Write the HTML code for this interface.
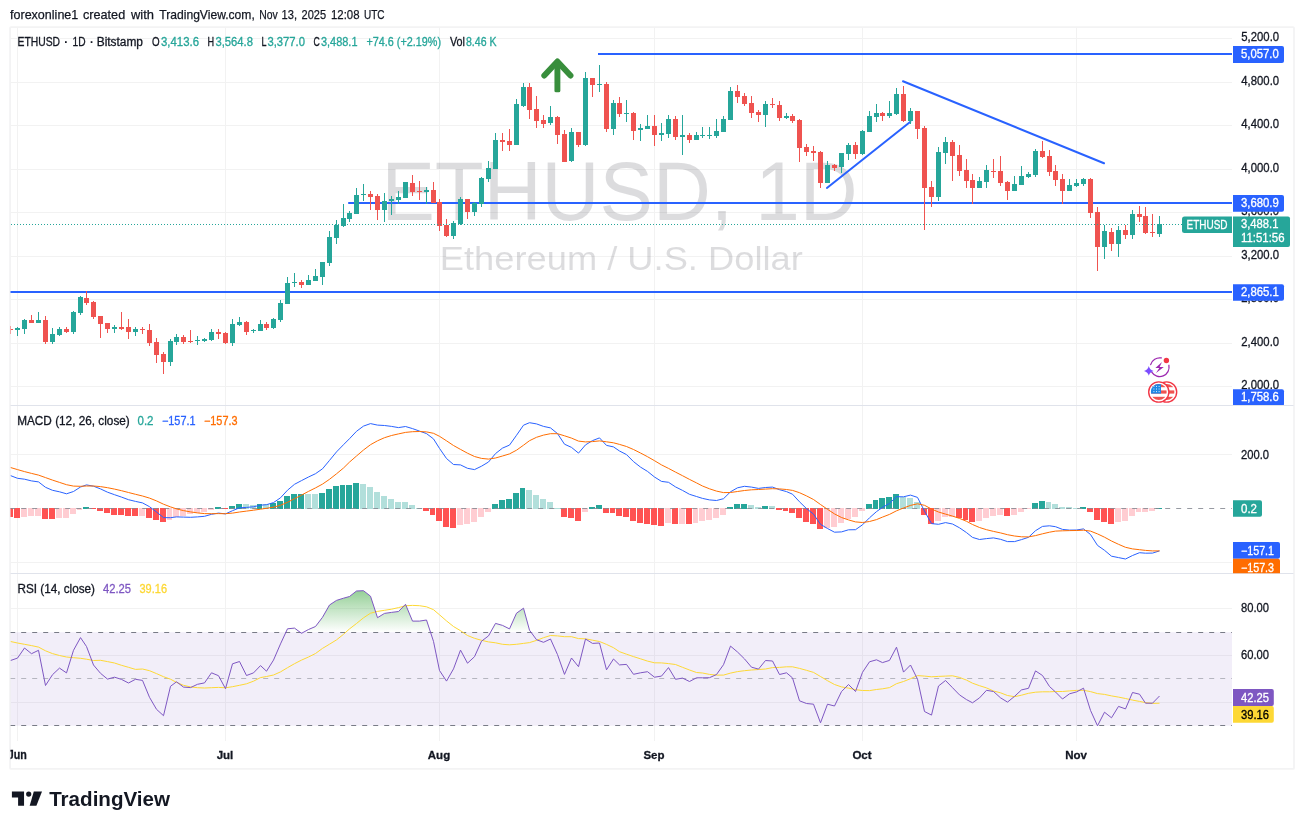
<!DOCTYPE html>
<html><head><meta charset="utf-8"><title>ETHUSD 1D</title>
<style>html,body{margin:0;padding:0;background:#fff;}body{width:1304px;height:829px;overflow:hidden;font-family:"Liberation Sans",sans-serif;}svg{display:block;will-change:transform;}</style></head>
<body>
<svg width="1304" height="829" viewBox="0 0 1304 829" font-family="'Liberation Sans', sans-serif">
<defs>
<clipPath id="cpP"><rect x="10.5" y="27.5" width="1221.5" height="377.5"/></clipPath>
<clipPath id="cpM"><rect x="10.5" y="406" width="1221.5" height="167"/></clipPath>
<clipPath id="cpR"><rect x="10.5" y="574" width="1221.5" height="167"/></clipPath>
<clipPath id="cpA"><rect x="1232" y="27.5" width="62" height="377.5"/></clipPath>
<clipPath id="cpAM"><rect x="1232" y="406" width="62" height="167.3"/></clipPath>
<clipPath id="cpT"><rect x="10.5" y="741" width="1284" height="28"/></clipPath>
<linearGradient id="gOB" gradientUnits="userSpaceOnUse" x1="0" y1="562.1" x2="0" y2="632.2"><stop offset="0" stop-color="#4caf50" stop-opacity="1"/><stop offset="1" stop-color="#4caf50" stop-opacity="0"/></linearGradient>
</defs>
<rect width="1304" height="829" fill="#fff"/>
<text x="10.0" y="18.7" font-size="13" fill="#131722" stroke="#131722" stroke-width="0.25" textLength="68.3" lengthAdjust="spacingAndGlyphs">forexonline1</text>
<text x="83.0" y="18.7" font-size="13" fill="#131722" stroke="#131722" stroke-width="0.25" textLength="42.2" lengthAdjust="spacingAndGlyphs">created</text>
<text x="131.0" y="18.7" font-size="13" fill="#131722" stroke="#131722" stroke-width="0.25" textLength="23.0" lengthAdjust="spacingAndGlyphs">with</text>
<text x="159.3" y="18.7" font-size="13" fill="#131722" stroke="#131722" stroke-width="0.25" textLength="95.5" lengthAdjust="spacingAndGlyphs">TradingView.com,</text>
<text x="259.3" y="18.7" font-size="13" fill="#131722" stroke="#131722" stroke-width="0.25" textLength="18.5" lengthAdjust="spacingAndGlyphs">Nov</text>
<text x="281.5" y="18.7" font-size="13" fill="#131722" stroke="#131722" stroke-width="0.25" textLength="15.5" lengthAdjust="spacingAndGlyphs">13,</text>
<text x="301.6" y="18.7" font-size="13" fill="#131722" stroke="#131722" stroke-width="0.25" textLength="24.5" lengthAdjust="spacingAndGlyphs">2025</text>
<text x="331.0" y="18.7" font-size="13" fill="#131722" stroke="#131722" stroke-width="0.25" textLength="28.5" lengthAdjust="spacingAndGlyphs">12:08</text>
<text x="364.0" y="18.7" font-size="13" fill="#131722" stroke="#131722" stroke-width="0.25" textLength="20.6" lengthAdjust="spacingAndGlyphs">UTC</text>
<rect x="10.1" y="27.05" width="1283.9" height="741.85" rx="1" fill="none" stroke="#f3f3f4" stroke-width="1.8"/>
<path d="M17.5 27.5V741M225.5 27.5V741M439.5 27.5V741M654.5 27.5V741M862.5 27.5V741M1076.5 27.5V741M10.5 38.5H1232.0M10.5 82.5H1232.0M10.5 125.5H1232.0M10.5 169.5H1232.0M10.5 212.5H1232.0M10.5 256.5H1232.0M10.5 299.5H1232.0M10.5 343.5H1232.0M10.5 386.5H1232.0M10.5 454.5H1232.0M10.5 562.5H1232.0M10.5 608.5H1232.0M10.5 655.5H1232.0M10.5 702.5H1232.0" stroke="#f2f2f2" stroke-width="1" fill="none"/>
<g fill="#131722" fill-opacity="0.15">
<text x="381.4" y="220.3" font-size="83.4" textLength="476.3" lengthAdjust="spacingAndGlyphs">ETHUSD, 1D</text>
<text x="439.8" y="270.2" font-size="33" textLength="363" lengthAdjust="spacingAndGlyphs">Ethereum / U.S. Dollar</text>
</g>
<g stroke="#2962ff" stroke-width="2" fill="none" stroke-linecap="butt">
<path d="M598 54H1232.0"/>
<path d="M348.2 203H1232.0"/>
<path d="M10.5 292H1232.0"/>
<path d="M826.9 188L910.4 121.8" stroke-linecap="round"/>
<path d="M903 81.2L1104 163.3" stroke-linecap="round"/>
</g>
<path d="M544.3 75.5L557.4 61.5L570.5 75.5" stroke="#388e3c" stroke-width="5.9" fill="none" stroke-linecap="round" stroke-linejoin="round"/>
<rect x="554.45" y="62" width="5.9" height="30.3" rx="1.6" fill="#388e3c"/>
<g clip-path="url(#cpP)" shape-rendering="crispEdges">
<path d="M17 327h1V336h-1zM24 319h1V334h-1zM38 312h1V323h-1zM52 328h1V344h-1zM59 327h1V336h-1zM73 311h1V334h-1zM80 296h1V315h-1zM114 325h1V333h-1zM135 327h1V336h-1zM170 339h1V366h-1zM176 334h1V345h-1zM197 336h1V345h-1zM204 338h1V342h-1zM211 329h1V341h-1zM232 319h1V346h-1zM239 317h1V326h-1zM253 329h1V333h-1zM260 320h1V331h-1zM273 318h1V329h-1zM280 300h1V322h-1zM287 277h1V304h-1zM294 273h1V287h-1zM308 275h1V285h-1zM315 269h1V281h-1zM322 262h1V285h-1zM329 231h1V266h-1zM336 220h1V244h-1zM343 204h1V227h-1zM349 211h1V222h-1zM356 188h1V214h-1zM363 184h1V201h-1zM384 193h1V222h-1zM391 196h1V215h-1zM398 191h1V204h-1zM405 182h1V198h-1zM426 187h1V204h-1zM453 221h1V239h-1zM460 197h1V225h-1zM474 202h1V216h-1zM481 177h1V207h-1zM488 161h1V182h-1zM495 133h1V169h-1zM516 99h1V145h-1zM523 83h1V107h-1zM550 106h1V125h-1zM571 128h1V162h-1zM585 72h1V146h-1zM599 65h1V92h-1zM613 100h1V135h-1zM626 100h1V122h-1zM640 124h1V141h-1zM647 115h1V129h-1zM661 123h1V141h-1zM668 115h1V138h-1zM682 115h1V155h-1zM696 132h1V140h-1zM702 127h1V138h-1zM709 127h1V139h-1zM716 119h1V138h-1zM723 116h1V132h-1zM730 87h1V120h-1zM765 101h1V127h-1zM786 113h1V119h-1zM827 161h1V183h-1zM841 153h1V173h-1zM848 143h1V160h-1zM862 130h1V155h-1zM869 111h1V132h-1zM876 104h1V122h-1zM889 101h1V118h-1zM896 88h1V115h-1zM910 108h1V124h-1zM938 147h1V201h-1zM945 137h1V164h-1zM979 177h1V188h-1zM986 165h1V188h-1zM1014 176h1V191h-1zM1021 166h1V185h-1zM1028 172h1V178h-1zM1035 149h1V177h-1zM1069 179h1V191h-1zM1076 179h1V187h-1zM1083 178h1V186h-1zM1104 225h1V259h-1zM1118 226h1V257h-1zM1132 210h1V239h-1zM1159 216h1V237h-1zM15 328h5V330h-5zM22 320h5V329h-5zM36 320h5V323h-5zM50 334h5V342h-5zM57 329h5V335h-5zM71 312h5V332h-5zM78 297h5V313h-5zM112 327h5V329h-5zM133 329h5V332h-5zM168 341h5V362h-5zM174 337h5V342h-5zM195 340h5V341h-5zM202 339h5V341h-5zM209 332h5V340h-5zM230 324h5V343h-5zM237 322h5V325h-5zM251 330h5V331h-5zM258 324h5V331h-5zM271 319h5V328h-5zM278 303h5V320h-5zM285 283h5V304h-5zM292 282h5V283h-5zM306 280h5V285h-5zM313 276h5V281h-5zM320 262h5V277h-5zM327 237h5V263h-5zM334 225h5V238h-5zM341 218h5V226h-5zM347 213h5V219h-5zM354 195h5V214h-5zM361 194h5V195h-5zM382 201h5V210h-5zM389 199h5V201h-5zM396 197h5V200h-5zM403 182h5V198h-5zM424 190h5V192h-5zM451 223h5V236h-5zM458 199h5V224h-5zM472 203h5V212h-5zM479 178h5V204h-5zM486 168h5V179h-5zM493 140h5V169h-5zM514 104h5V145h-5zM521 87h5V106h-5zM548 117h5V123h-5zM569 132h5V161h-5zM583 78h5V145h-5zM597 84h5V85h-5zM611 103h5V129h-5zM624 113h5V114h-5zM638 128h5V130h-5zM645 126h5V129h-5zM659 133h5V135h-5zM666 119h5V134h-5zM680 135h5V137h-5zM694 135h5V140h-5zM700 135h5V136h-5zM707 135h5V136h-5zM714 131h5V136h-5zM721 119h5V132h-5zM728 91h5V120h-5zM763 104h5V115h-5zM784 116h5V118h-5zM825 165h5V183h-5zM839 153h5V167h-5zM846 145h5V154h-5zM860 131h5V154h-5zM867 116h5V132h-5zM874 113h5V117h-5zM887 113h5V116h-5zM894 94h5V114h-5zM908 111h5V121h-5zM936 152h5V197h-5zM943 142h5V153h-5zM977 181h5V188h-5zM984 170h5V182h-5zM1012 184h5V191h-5zM1019 176h5V185h-5zM1026 174h5V177h-5zM1033 151h5V175h-5zM1067 185h5V191h-5zM1074 183h5V186h-5zM1081 179h5V184h-5zM1102 231h5V247h-5zM1116 230h5V244h-5zM1130 214h5V235h-5zM1157 224h5V234h-5z" fill="#26a69a"/>
<path d="M10 326h1V334h-1zM31 315h1V323h-1zM45 316h1V344h-1zM66 327h1V333h-1zM86 291h1V305h-1zM93 301h1V319h-1zM100 316h1V338h-1zM107 323h1V333h-1zM121 312h1V330h-1zM128 319h1V339h-1zM142 327h1V334h-1zM149 324h1V346h-1zM156 338h1V363h-1zM163 352h1V374h-1zM183 335h1V344h-1zM190 330h1V343h-1zM218 329h1V339h-1zM225 332h1V344h-1zM246 321h1V335h-1zM266 322h1V330h-1zM301 280h1V288h-1zM370 191h1V210h-1zM377 194h1V220h-1zM412 175h1V196h-1zM419 181h1V200h-1zM433 182h1V203h-1zM439 199h1V231h-1zM446 219h1V237h-1zM467 199h1V219h-1zM502 133h1V151h-1zM509 129h1V151h-1zM529 83h1V119h-1zM536 96h1V128h-1zM543 115h1V128h-1zM557 116h1V144h-1zM564 130h1V162h-1zM578 132h1V147h-1zM592 78h1V97h-1zM606 82h1V132h-1zM619 97h1V117h-1zM633 112h1V140h-1zM654 115h1V146h-1zM675 116h1V140h-1zM689 133h1V143h-1zM737 85h1V103h-1zM744 93h1V106h-1zM751 96h1V118h-1zM758 110h1V122h-1zM772 98h1V108h-1zM779 101h1V121h-1zM792 114h1V123h-1zM799 119h1V162h-1zM806 144h1V156h-1zM813 146h1V161h-1zM820 151h1V188h-1zM834 164h1V171h-1zM855 142h1V159h-1zM882 112h1V121h-1zM903 86h1V122h-1zM917 111h1V139h-1zM924 126h1V230h-1zM931 181h1V207h-1zM952 140h1V181h-1zM959 145h1V176h-1zM966 159h1V188h-1zM972 174h1V204h-1zM993 159h1V178h-1zM1000 156h1V186h-1zM1007 181h1V200h-1zM1042 141h1V158h-1zM1049 150h1V176h-1zM1055 165h1V186h-1zM1062 174h1V204h-1zM1090 178h1V218h-1zM1097 207h1V271h-1zM1111 228h1V251h-1zM1125 225h1V239h-1zM1139 206h1V222h-1zM1145 207h1V234h-1zM1152 214h1V237h-1zM8 329h5V330h-5zM29 320h5V323h-5zM43 320h5V342h-5zM64 329h5V332h-5zM84 298h5V303h-5zM91 302h5V317h-5zM98 316h5V324h-5zM105 323h5V329h-5zM119 327h5V329h-5zM126 327h5V332h-5zM140 329h5V330h-5zM147 330h5V343h-5zM154 342h5V355h-5zM161 354h5V362h-5zM181 337h5V342h-5zM188 341h5V342h-5zM216 332h5V334h-5zM223 333h5V343h-5zM244 322h5V332h-5zM264 324h5V328h-5zM299 282h5V285h-5zM368 194h5V197h-5zM375 196h5V210h-5zM410 183h5V192h-5zM417 191h5V192h-5zM431 190h5V203h-5zM437 202h5V226h-5zM444 225h5V236h-5zM465 199h5V212h-5zM500 140h5V142h-5zM507 141h5V145h-5zM527 87h5V110h-5zM534 109h5V121h-5zM541 120h5V124h-5zM555 117h5V135h-5zM562 134h5V162h-5zM576 132h5V145h-5zM590 78h5V85h-5zM604 84h5V129h-5zM617 103h5V114h-5zM631 113h5V131h-5zM652 126h5V135h-5zM673 119h5V137h-5zM687 135h5V140h-5zM735 91h5V97h-5zM742 96h5V104h-5zM749 103h5V113h-5zM756 112h5V115h-5zM770 104h5V105h-5zM777 105h5V118h-5zM790 116h5V121h-5zM797 120h5V148h-5zM804 147h5V152h-5zM811 151h5V153h-5zM818 152h5V183h-5zM832 165h5V168h-5zM853 145h5V154h-5zM880 113h5V116h-5zM901 94h5V121h-5zM915 111h5V129h-5zM922 128h5V188h-5zM929 187h5V197h-5zM950 142h5V156h-5zM957 155h5V171h-5zM964 170h5V181h-5zM970 180h5V188h-5zM991 171h5V172h-5zM998 171h5V183h-5zM1005 182h5V191h-5zM1040 151h5V157h-5zM1047 156h5V172h-5zM1053 171h5V180h-5zM1060 179h5V191h-5zM1088 179h5V213h-5zM1095 212h5V247h-5zM1109 232h5V244h-5zM1123 230h5V235h-5zM1137 214h5V217h-5zM1143 216h5V233h-5zM1150 232h5V233h-5z" fill="#ef5350"/>
</g>
<path d="M11 224.5H1182" stroke="#26a69a" stroke-width="1" stroke-dasharray="1 2" fill="none" shape-rendering="crispEdges"/>
<path d="M10.5 405.5H1293.5M10.5 573.5H1293.5" stroke="#e0e3eb" stroke-width="1" fill="none"/>
<g clip-path="url(#cpM)">
<g shape-rendering="crispEdges">
<path d="M83 507h6V509h-6zM215 507h6V509h-6zM229 506h6V509h-6zM236 504h6V509h-6zM257 504h5V509h-5zM270 503h6V509h-6zM277 501h6V509h-6zM284 496h6V509h-6zM291 494h6V509h-6zM298 494h6V509h-6zM319 493h6V509h-6zM326 489h6V509h-6zM333 486h6V509h-6zM340 485h5V509h-5zM346 485h6V509h-6zM353 483h6V509h-6zM492 504h6V509h-6zM499 500h6V509h-6zM506 499h6V509h-6zM513 493h6V509h-6zM520 488h5V509h-5zM589 507h6V509h-6zM596 505h6V509h-6zM727 507h6V509h-6zM734 504h6V509h-6zM741 504h6V509h-6zM762 506h6V509h-6zM866 504h6V509h-6zM873 500h5V509h-5zM879 498h6V509h-6zM886 497h6V509h-6zM893 494h6V509h-6zM1032 503h6V509h-6zM1039 501h6V509h-6zM1080 507h6V509h-6zM1156 508h6V509h-6z" fill="#26a69a"/>
<path d="M243 504h6V509h-6zM250 505h6V509h-6zM263 504h6V509h-6zM305 494h6V509h-6zM312 494h6V509h-6zM360 484h6V509h-6zM367 487h6V509h-6zM374 492h6V509h-6zM381 496h6V509h-6zM388 499h6V509h-6zM395 502h6V509h-6zM402 502h6V509h-6zM409 505h6V509h-6zM416 508h6V509h-6zM526 490h6V509h-6zM533 495h6V509h-6zM540 499h6V509h-6zM547 502h6V509h-6zM554 508h6V509h-6zM748 505h6V509h-6zM755 507h6V509h-6zM769 506h6V509h-6zM900 497h6V509h-6zM907 498h6V509h-6zM914 502h6V509h-6zM1046 502h5V509h-5zM1052 504h6V509h-6zM1059 507h6V509h-6zM1066 507h6V509h-6zM1073 508h6V509h-6z" fill="#b2dfdb"/>
<path d="M7 508h6V517h-6zM14 508h6V518h-6zM42 508h6V519h-6zM49 508h6V519h-6zM90 508h6V509h-6zM97 508h6V511h-6zM104 508h6V513h-6zM111 508h6V515h-6zM118 508h6V515h-6zM125 508h6V516h-6zM132 508h6V516h-6zM146 508h6V518h-6zM153 508h6V520h-6zM160 508h6V522h-6zM222 508h6V509h-6zM423 508h6V511h-6zM430 508h5V515h-5zM436 508h6V521h-6zM443 508h6V527h-6zM450 508h6V528h-6zM561 508h6V517h-6zM568 508h6V518h-6zM575 508h6V521h-6zM603 508h6V513h-6zM610 508h5V513h-5zM616 508h6V516h-6zM623 508h6V517h-6zM630 508h6V521h-6zM637 508h6V523h-6zM644 508h6V524h-6zM651 508h6V525h-6zM658 508h6V526h-6zM672 508h6V524h-6zM686 508h6V524h-6zM776 508h6V510h-6zM783 508h5V511h-5zM789 508h6V513h-6zM796 508h6V518h-6zM803 508h6V522h-6zM810 508h6V524h-6zM817 508h6V529h-6zM921 508h6V515h-6zM928 508h6V524h-6zM956 508h6V518h-6zM963 508h5V520h-5zM969 508h6V522h-6zM1004 508h6V516h-6zM1087 508h6V512h-6zM1094 508h6V520h-6zM1101 508h6V522h-6zM1108 508h6V524h-6z" fill="#ff5252"/>
<path d="M21 508h6V517h-6zM28 508h6V516h-6zM35 508h6V516h-6zM56 508h6V518h-6zM63 508h6V518h-6zM70 508h6V514h-6zM77 508h5V510h-5zM139 508h6V516h-6zM167 508h5V520h-5zM173 508h6V517h-6zM180 508h6V516h-6zM187 508h6V514h-6zM194 508h6V513h-6zM201 508h6V512h-6zM208 508h6V510h-6zM457 508h6V525h-6zM464 508h6V524h-6zM471 508h6V522h-6zM478 508h6V517h-6zM485 508h6V512h-6zM582 508h6V512h-6zM665 508h6V523h-6zM679 508h6V524h-6zM693 508h5V523h-5zM699 508h6V521h-6zM706 508h6V520h-6zM713 508h6V518h-6zM720 508h6V515h-6zM824 508h6V528h-6zM831 508h6V527h-6zM838 508h6V523h-6zM845 508h6V519h-6zM852 508h6V517h-6zM859 508h6V511h-6zM935 508h6V521h-6zM942 508h6V517h-6zM949 508h6V517h-6zM976 508h6V521h-6zM983 508h6V518h-6zM990 508h6V516h-6zM997 508h6V515h-6zM1011 508h6V515h-6zM1018 508h6V512h-6zM1025 508h6V509h-6zM1115 508h6V522h-6zM1122 508h6V521h-6zM1129 508h6V516h-6zM1136 508h5V512h-5zM1142 508h6V512h-6zM1149 508h6V511h-6z" fill="#ffcdd2"/>
</g>
<path d="M10.2 508.5H1232.0" stroke="#858892" stroke-opacity="0.85" stroke-width="1" stroke-dasharray="5 6" fill="none"/>
<path d="M10.5 475.6L17.5 478.3L24.5 479.2L31.5 480.9L38.5 481.9L45.5 487.3L52.5 490.3L59.5 491.8L66.5 493.8L73.5 491.5L80.5 487.0L86.5 484.9L93.5 486.2L100.5 488.9L107.5 492.2L114.5 494.7L121.5 497.1L128.5 499.7L135.5 501.4L142.5 502.9L149.5 506.7L156.5 512.0L163.5 517.6L170.5 517.7L176.5 516.9L183.5 517.1L190.5 517.3L197.5 516.9L204.5 516.3L211.5 514.3L218.5 513.1L225.5 513.9L232.5 510.7L239.5 507.8L246.5 507.4L253.5 506.8L260.5 505.2L266.5 504.7L273.5 502.6L280.5 497.8L287.5 490.2L294.5 484.3L301.5 480.6L308.5 477.0L315.5 473.7L322.5 468.8L329.5 460.4L336.5 451.9L343.5 444.7L349.5 438.7L356.5 431.3L363.5 426.1L370.5 423.6L377.5 425.1L384.5 425.5L391.5 426.4L398.5 427.6L405.5 426.5L412.5 428.6L419.5 431.1L426.5 433.6L433.5 438.9L439.5 448.4L446.5 458.5L453.5 464.5L460.5 464.9L467.5 468.3L474.5 469.6L481.5 466.2L488.5 462.0L495.5 453.6L502.5 448.1L509.5 445.1L516.5 435.3L523.5 425.2L529.5 422.7L536.5 423.9L543.5 426.4L550.5 427.9L557.5 433.6L564.5 444.2L571.5 447.4L578.5 453.1L585.5 444.9L592.5 440.6L599.5 437.9L606.5 445.4L613.5 446.9L619.5 451.0L626.5 454.6L633.5 461.6L640.5 467.1L647.5 471.4L654.5 477.0L661.5 481.4L668.5 482.3L675.5 486.9L682.5 490.4L689.5 494.3L696.5 496.5L702.5 498.4L709.5 499.9L716.5 500.5L723.5 498.7L730.5 491.8L737.5 487.8L744.5 486.3L751.5 487.1L758.5 488.4L765.5 487.5L772.5 487.1L779.5 489.7L786.5 491.6L792.5 494.2L799.5 501.8L806.5 508.6L813.5 514.1L820.5 524.3L827.5 528.5L834.5 532.2L841.5 531.9L848.5 529.8L855.5 529.7L862.5 524.8L869.5 517.8L876.5 511.6L882.5 507.4L889.5 503.4L896.5 496.7L903.5 496.8L910.5 495.1L917.5 497.4L924.5 511.1L931.5 523.6L938.5 524.3L945.5 522.6L952.5 524.0L959.5 527.8L966.5 532.6L972.5 537.4L979.5 539.5L986.5 538.6L993.5 537.9L1000.5 539.3L1007.5 541.6L1014.5 541.6L1021.5 539.6L1028.5 537.3L1035.5 530.7L1042.5 526.4L1049.5 525.8L1055.5 526.7L1062.5 529.4L1069.5 530.1L1076.5 530.0L1083.5 528.9L1090.5 534.5L1097.5 545.4L1104.5 550.3L1111.5 556.2L1118.5 557.6L1125.5 559.0L1132.5 555.5L1139.5 552.7L1145.5 553.2L1152.5 553.1L1159.5 550.9" stroke="#2962ff" stroke-width="1" fill="none" stroke-linejoin="round"/>
<path d="M10.5 467.5L17.5 469.6L24.5 471.6L31.5 473.4L38.5 475.1L45.5 477.6L52.5 480.1L59.5 482.4L66.5 484.7L73.5 486.1L80.5 486.3L86.5 486.0L93.5 486.0L100.5 486.6L107.5 487.7L114.5 489.1L121.5 490.7L128.5 492.5L135.5 494.3L142.5 496.0L149.5 498.1L156.5 500.9L163.5 504.2L170.5 506.9L176.5 508.9L183.5 510.6L190.5 511.9L197.5 512.9L204.5 513.6L211.5 513.7L218.5 513.6L225.5 513.7L232.5 513.1L239.5 512.0L246.5 511.1L253.5 510.2L260.5 509.2L266.5 508.3L273.5 507.2L280.5 505.3L287.5 502.3L294.5 498.7L301.5 495.1L308.5 491.4L315.5 487.9L322.5 484.1L329.5 479.3L336.5 473.8L343.5 468.0L349.5 462.1L356.5 456.0L363.5 450.0L370.5 444.7L377.5 440.8L384.5 437.7L391.5 435.5L398.5 433.9L405.5 432.4L412.5 431.7L419.5 431.5L426.5 431.9L433.5 433.3L439.5 436.3L446.5 440.8L453.5 445.5L460.5 449.4L467.5 453.2L474.5 456.5L481.5 458.4L488.5 459.1L495.5 458.0L502.5 456.0L509.5 453.9L516.5 450.2L523.5 445.2L529.5 440.7L536.5 437.3L543.5 435.1L550.5 433.7L557.5 433.7L564.5 435.8L571.5 438.1L578.5 441.1L585.5 441.9L592.5 441.6L599.5 440.9L606.5 441.8L613.5 442.8L619.5 444.4L626.5 446.5L633.5 449.5L640.5 453.0L647.5 456.7L654.5 460.7L661.5 464.9L668.5 468.4L675.5 472.1L682.5 475.7L689.5 479.4L696.5 482.9L702.5 486.0L709.5 488.8L716.5 491.1L723.5 492.6L730.5 492.5L737.5 491.5L744.5 490.5L751.5 489.8L758.5 489.5L765.5 489.1L772.5 488.7L779.5 488.9L786.5 489.5L792.5 490.4L799.5 492.7L806.5 495.9L813.5 499.5L820.5 504.5L827.5 509.3L834.5 513.9L841.5 517.5L848.5 519.9L855.5 521.9L862.5 522.5L869.5 521.5L876.5 519.6L882.5 517.1L889.5 514.4L896.5 510.8L903.5 508.0L910.5 505.4L917.5 503.8L924.5 505.3L931.5 509.0L938.5 512.0L945.5 514.1L952.5 516.1L959.5 518.4L966.5 521.3L972.5 524.5L979.5 527.5L986.5 529.7L993.5 531.4L1000.5 532.9L1007.5 534.7L1014.5 536.0L1021.5 536.8L1028.5 536.9L1035.5 535.6L1042.5 533.8L1049.5 532.2L1055.5 531.1L1062.5 530.8L1069.5 530.6L1076.5 530.5L1083.5 530.2L1090.5 531.1L1097.5 533.9L1104.5 537.2L1111.5 541.0L1118.5 544.3L1125.5 547.3L1132.5 548.9L1139.5 549.7L1145.5 550.4L1152.5 550.9L1159.5 550.9" stroke="#ff6d00" stroke-width="1" fill="none" stroke-linejoin="round"/>
</g>
<g clip-path="url(#cpR)">
<rect x="10.5" y="632.2" width="1221.5" height="93.5" fill="#7e57c2" fill-opacity="0.1"/>
<path d="M285.9 632.2L287.5 628.8L294.5 628.1L300.0 632.2zM303.6 632.2L308.5 629.5L315.5 626.5L322.5 617.3L329.5 605.0L336.5 600.4L343.5 598.2L349.5 596.5L356.5 591.0L363.5 590.7L370.5 596.2L377.5 617.7L384.5 613.4L391.5 612.4L398.5 611.5L405.5 604.3L412.5 621.1L419.5 621.1L426.5 620.0L430.5 632.2zM490.6 632.2L495.5 623.4L502.5 625.4L509.5 628.9L516.5 613.2L523.5 608.2L529.5 630.2L530.9 632.2z" fill="url(#gOB)"/>
<path d="M10.2 632.5H1232.0" stroke="#787b86" stroke-width="1" stroke-dasharray="5 6" fill="none"/>
<path d="M10.2 725.5H1232.0" stroke="#787b86" stroke-width="1" stroke-dasharray="5 6" fill="none"/>
<path d="M10.2 678.5H1232.0" stroke="#787b86" stroke-opacity="0.5" stroke-width="1" stroke-dasharray="5 6" fill="none"/>
<path d="M10.5 641.5L17.5 643.0L24.5 644.3L31.5 645.6L38.5 647.1L45.5 650.8L52.5 653.6L59.5 655.5L66.5 657.0L73.5 657.7L80.5 658.3L86.5 659.2L93.5 660.5L100.5 660.3L107.5 661.6L114.5 663.0L121.5 665.3L128.5 667.3L135.5 669.4L142.5 669.0L149.5 670.7L156.5 673.6L163.5 676.7L170.5 679.2L176.5 682.4L183.5 685.3L190.5 686.9L197.5 687.7L204.5 688.0L211.5 687.7L218.5 687.4L225.5 687.8L232.5 686.7L239.5 685.3L246.5 683.8L253.5 681.2L260.5 677.6L266.5 676.5L273.5 675.0L280.5 671.9L287.5 667.7L294.5 663.7L301.5 660.1L308.5 657.0L315.5 653.5L322.5 648.4L329.5 644.2L336.5 639.9L343.5 634.3L349.5 628.9L356.5 623.5L363.5 617.8L370.5 613.2L377.5 611.4L384.5 610.3L391.5 609.2L398.5 607.6L405.5 605.8L412.5 605.4L419.5 605.7L426.5 606.8L433.5 609.7L439.5 614.8L446.5 620.9L453.5 626.5L460.5 630.7L467.5 635.5L474.5 638.3L481.5 640.3L488.5 641.9L495.5 642.8L502.5 644.3L509.5 644.8L516.5 644.3L523.5 643.4L529.5 642.6L536.5 640.4L543.5 637.7L550.5 635.5L557.5 635.9L564.5 636.7L571.5 636.7L578.5 638.6L585.5 638.8L592.5 640.2L599.5 641.5L606.5 644.4L613.5 647.7L619.5 651.7L626.5 654.2L633.5 656.6L640.5 658.8L647.5 661.1L654.5 662.8L661.5 662.9L668.5 663.6L675.5 664.5L682.5 667.3L689.5 670.0L696.5 672.5L702.5 673.0L709.5 674.4L716.5 675.1L723.5 675.1L730.5 673.1L737.5 671.6L744.5 670.7L751.5 670.0L758.5 669.5L765.5 669.0L772.5 667.6L779.5 667.4L786.5 666.8L792.5 666.8L799.5 668.4L806.5 670.3L813.5 672.4L820.5 676.5L827.5 680.7L834.5 684.5L841.5 686.9L848.5 688.1L855.5 689.7L862.5 690.5L869.5 690.6L876.5 689.5L882.5 688.8L889.5 687.6L896.5 683.7L903.5 681.5L910.5 678.7L917.5 675.6L924.5 676.1L931.5 676.8L938.5 676.4L945.5 676.1L952.5 675.8L959.5 677.4L966.5 680.1L972.5 683.2L979.5 685.7L986.5 687.9L993.5 691.0L1000.5 692.8L1007.5 695.5L1014.5 696.7L1021.5 695.2L1028.5 693.3L1035.5 692.2L1042.5 691.8L1049.5 691.8L1055.5 691.5L1062.5 691.5L1069.5 690.9L1076.5 690.4L1083.5 690.3L1090.5 691.6L1097.5 693.6L1104.5 694.4L1111.5 695.9L1118.5 697.1L1125.5 698.5L1132.5 700.1L1139.5 701.4L1145.5 702.6L1152.5 703.4L1159.5 703.2" stroke="#fdd835" stroke-width="1" fill="none" stroke-linejoin="round"/>
<path d="M10.5 660.5L17.5 658.1L24.5 648.0L31.5 653.7L38.5 650.3L45.5 685.5L52.5 674.7L59.5 668.1L66.5 672.9L73.5 650.3L80.5 637.6L86.5 646.5L93.5 665.0L100.5 673.3L107.5 679.1L114.5 677.2L121.5 679.4L128.5 683.0L135.5 679.3L142.5 680.4L149.5 697.3L156.5 709.3L163.5 715.7L170.5 686.3L176.5 681.8L183.5 687.1L190.5 687.6L197.5 684.3L204.5 682.9L211.5 672.8L218.5 675.7L225.5 688.7L232.5 663.8L239.5 661.5L246.5 675.5L253.5 672.9L260.5 665.6L266.5 671.2L273.5 660.1L280.5 643.9L287.5 628.8L294.5 628.1L301.5 633.3L308.5 629.5L315.5 626.5L322.5 617.3L329.5 605.0L336.5 600.4L343.5 598.2L349.5 596.5L356.5 591.0L363.5 590.7L370.5 596.2L377.5 617.7L384.5 613.4L391.5 612.4L398.5 611.5L405.5 604.3L412.5 621.1L419.5 621.1L426.5 620.0L433.5 641.4L439.5 670.5L446.5 681.1L453.5 668.9L460.5 650.1L467.5 663.2L474.5 656.7L481.5 641.2L488.5 635.9L495.5 623.4L502.5 625.4L509.5 628.9L516.5 613.2L523.5 608.2L529.5 630.2L536.5 639.7L543.5 642.3L550.5 639.0L557.5 654.6L564.5 674.4L571.5 658.0L578.5 666.7L585.5 639.0L592.5 643.4L599.5 643.0L606.5 669.8L613.5 659.0L619.5 664.9L626.5 664.4L633.5 674.3L640.5 672.8L647.5 671.7L654.5 677.2L661.5 676.1L668.5 667.6L675.5 679.3L682.5 678.1L689.5 681.5L696.5 677.8L702.5 677.8L709.5 677.7L716.5 674.5L723.5 664.7L730.5 646.1L737.5 652.0L744.5 658.9L751.5 667.2L758.5 669.1L765.5 660.5L772.5 661.0L779.5 674.5L786.5 672.8L792.5 677.9L799.5 700.8L806.5 703.5L813.5 704.2L820.5 722.8L827.5 704.2L834.5 706.0L841.5 691.6L848.5 684.5L855.5 691.5L862.5 672.3L869.5 661.8L876.5 659.8L882.5 662.6L889.5 660.4L896.5 647.2L903.5 672.1L910.5 665.0L917.5 679.2L924.5 711.5L931.5 715.1L938.5 686.0L945.5 680.5L952.5 687.7L959.5 694.9L966.5 699.6L972.5 702.8L979.5 697.9L986.5 690.3L993.5 691.5L1000.5 697.8L1007.5 702.1L1014.5 696.4L1021.5 689.9L1028.5 688.3L1035.5 670.9L1042.5 675.5L1049.5 686.5L1055.5 692.0L1062.5 699.0L1069.5 693.8L1076.5 691.9L1083.5 688.2L1090.5 710.4L1097.5 725.8L1104.5 712.2L1111.5 717.8L1118.5 706.4L1125.5 708.9L1132.5 692.5L1139.5 694.2L1145.5 703.2L1152.5 703.2L1159.5 696.0" stroke="#7e57c2" stroke-width="1" fill="none" stroke-linejoin="round"/>
</g>
<text x="17.6" y="45.7" font-size="12" fill="#131722" stroke="#131722" stroke-width="0.3" textLength="42.5" lengthAdjust="spacingAndGlyphs">ETHUSD</text>
<text x="72.6" y="45.7" font-size="12" fill="#131722" stroke="#131722" stroke-width="0.3" textLength="13.0" lengthAdjust="spacingAndGlyphs">1D</text>
<text x="96.7" y="45.7" font-size="12" fill="#131722" stroke="#131722" stroke-width="0.3" textLength="46.3" lengthAdjust="spacingAndGlyphs">Bitstamp</text>
<rect x="65" y="41.2" width="1.7" height="1.8" fill="#131722"/><rect x="90.7" y="41.2" width="1.7" height="1.8" fill="#131722"/>
<text x="152.0" y="45.7" font-size="12" fill="#131722" stroke="#131722" stroke-width="0.3" textLength="7.6" lengthAdjust="spacingAndGlyphs">O</text>
<text x="161.0" y="45.7" font-size="12" fill="#26a69a" stroke="#26a69a" stroke-width="0.3" textLength="38.0" lengthAdjust="spacingAndGlyphs">3,413.6</text>
<text x="207.5" y="45.7" font-size="12" fill="#131722" stroke="#131722" stroke-width="0.3" textLength="6.6" lengthAdjust="spacingAndGlyphs">H</text>
<text x="215.5" y="45.7" font-size="12" fill="#26a69a" stroke="#26a69a" stroke-width="0.3" textLength="37.5" lengthAdjust="spacingAndGlyphs">3,564.8</text>
<text x="261.5" y="45.7" font-size="12" fill="#131722" stroke="#131722" stroke-width="0.3" textLength="5.0" lengthAdjust="spacingAndGlyphs">L</text>
<text x="267.5" y="45.7" font-size="12" fill="#26a69a" stroke="#26a69a" stroke-width="0.3" textLength="37.5" lengthAdjust="spacingAndGlyphs">3,377.0</text>
<text x="313.5" y="45.7" font-size="12" fill="#131722" stroke="#131722" stroke-width="0.3" textLength="6.3" lengthAdjust="spacingAndGlyphs">C</text>
<text x="321.0" y="45.7" font-size="12" fill="#26a69a" stroke="#26a69a" stroke-width="0.3" textLength="36.5" lengthAdjust="spacingAndGlyphs">3,488.1</text>
<text x="366.5" y="45.7" font-size="12" fill="#26a69a" stroke="#26a69a" stroke-width="0.3" textLength="74.5" lengthAdjust="spacingAndGlyphs">+74.6 (+2.19%)</text>
<text x="450.0" y="45.7" font-size="12" fill="#131722" stroke="#131722" stroke-width="0.3" textLength="15.0" lengthAdjust="spacingAndGlyphs">Vol</text>
<text x="466.0" y="45.7" font-size="12" fill="#26a69a" stroke="#26a69a" stroke-width="0.3" textLength="30.5" lengthAdjust="spacingAndGlyphs">8.46 K</text>
<text x="17.2" y="424.8" font-size="12" fill="#131722" stroke="#131722" stroke-width="0.3" textLength="112.6" lengthAdjust="spacingAndGlyphs">MACD (12, 26, close)</text>
<text x="137.5" y="424.8" font-size="12" fill="#26a69a" stroke="#26a69a" stroke-width="0.3" textLength="16.0" lengthAdjust="spacingAndGlyphs">0.2</text>
<text x="162.0" y="424.8" font-size="12" fill="#2962ff" stroke="#2962ff" stroke-width="0.3" textLength="33.5" lengthAdjust="spacingAndGlyphs">−157.1</text>
<text x="204.0" y="424.8" font-size="12" fill="#ff6d00" stroke="#ff6d00" stroke-width="0.3" textLength="33.5" lengthAdjust="spacingAndGlyphs">−157.3</text>
<text x="17.5" y="592.7" font-size="12" fill="#131722" stroke="#131722" stroke-width="0.3" textLength="77.5" lengthAdjust="spacingAndGlyphs">RSI (14, close)</text>
<text x="103.0" y="592.7" font-size="12" fill="#7e57c2" stroke="#7e57c2" stroke-width="0.3" textLength="28.0" lengthAdjust="spacingAndGlyphs">42.25</text>
<text x="139.5" y="592.7" font-size="12" fill="#fdd835" stroke="#fdd835" stroke-width="0.3" textLength="27.5" lengthAdjust="spacingAndGlyphs">39.16</text>
<g clip-path="url(#cpA)">
<text x="1241.3" y="41.0" font-size="12" fill="#131722" stroke="#131722" stroke-width="0.3" textLength="37.8" lengthAdjust="spacingAndGlyphs">5,200.0</text>
</g>
<g clip-path="url(#cpA)">
<text x="1241.3" y="85.0" font-size="12" fill="#131722" stroke="#131722" stroke-width="0.3" textLength="37.8" lengthAdjust="spacingAndGlyphs">4,800.0</text>
</g>
<g clip-path="url(#cpA)">
<text x="1241.3" y="128.1" font-size="12" fill="#131722" stroke="#131722" stroke-width="0.3" textLength="37.8" lengthAdjust="spacingAndGlyphs">4,400.0</text>
</g>
<g clip-path="url(#cpA)">
<text x="1241.3" y="172.1" font-size="12" fill="#131722" stroke="#131722" stroke-width="0.3" textLength="37.8" lengthAdjust="spacingAndGlyphs">4,000.0</text>
</g>
<g clip-path="url(#cpA)">
<text x="1241.3" y="215.1" font-size="12" fill="#131722" stroke="#131722" stroke-width="0.3" textLength="37.8" lengthAdjust="spacingAndGlyphs">3,600.0</text>
</g>
<g clip-path="url(#cpA)">
<text x="1241.3" y="259.1" font-size="12" fill="#131722" stroke="#131722" stroke-width="0.3" textLength="37.8" lengthAdjust="spacingAndGlyphs">3,200.0</text>
</g>
<g clip-path="url(#cpA)">
<text x="1241.3" y="302.1" font-size="12" fill="#131722" stroke="#131722" stroke-width="0.3" textLength="37.8" lengthAdjust="spacingAndGlyphs">2,800.0</text>
</g>
<g clip-path="url(#cpA)">
<text x="1241.3" y="346.1" font-size="12" fill="#131722" stroke="#131722" stroke-width="0.3" textLength="37.8" lengthAdjust="spacingAndGlyphs">2,400.0</text>
</g>
<g clip-path="url(#cpA)">
<text x="1241.3" y="389.1" font-size="12" fill="#131722" stroke="#131722" stroke-width="0.3" textLength="37.8" lengthAdjust="spacingAndGlyphs">2,000.0</text>
</g>
<text x="1241.0" y="458.7" font-size="12" fill="#131722" stroke="#131722" stroke-width="0.3" textLength="28.0" lengthAdjust="spacingAndGlyphs">200.0</text>
<text x="1241.0" y="611.9" font-size="12" fill="#131722" stroke="#131722" stroke-width="0.3" textLength="28.0" lengthAdjust="spacingAndGlyphs">80.00</text>
<text x="1241.0" y="658.9" font-size="12" fill="#131722" stroke="#131722" stroke-width="0.3" textLength="28.0" lengthAdjust="spacingAndGlyphs">60.00</text>
<path d="M1233.0 46.0h49.0a2 2 0 0 1 2 2v13.0a2 2 0 0 1 -2 2h-49.0z" fill="#2962ff"/>
<text x="1241.0" y="57.8" font-size="12" fill="#fff" stroke="#fff" stroke-width="0.3" textLength="37.8" lengthAdjust="spacingAndGlyphs">5,057.0</text>
<path d="M1233.0 195.0h49.0a2 2 0 0 1 2 2v12.7a2 2 0 0 1 -2 2h-49.0z" fill="#2962ff"/>
<text x="1241.0" y="206.8" font-size="12" fill="#fff" stroke="#fff" stroke-width="0.3" textLength="37.8" lengthAdjust="spacingAndGlyphs">3,680.9</text>
<path d="M1233.0 284.2h49.0a2 2 0 0 1 2 2v12.6a2 2 0 0 1 -2 2h-49.0z" fill="#2962ff"/>
<text x="1241.0" y="295.9" font-size="12" fill="#fff" stroke="#fff" stroke-width="0.3" textLength="37.8" lengthAdjust="spacingAndGlyphs">2,865.1</text>
<g clip-path="url(#cpA)">
<path d="M1233.0 389.3h49.0a2 2 0 0 1 2 2v12.7a2 2 0 0 1 -2 2h-49.0z" fill="#2962ff"/>
<text x="1241.0" y="400.7" font-size="12" fill="#fff" stroke="#fff" stroke-width="0.3" textLength="37.8" lengthAdjust="spacingAndGlyphs">1,758.6</text>
</g>
<path d="M1233.0 216.4h55.0a2 2 0 0 1 2 2v26.5a2 2 0 0 1 -2 2h-55.0z" fill="#26a69a"/>
<text x="1241.0" y="228.0" font-size="12" fill="#fff" stroke="#fff" stroke-width="0.3" textLength="37.5" lengthAdjust="spacingAndGlyphs">3,488.1</text>
<text x="1241.0" y="241.9" font-size="12" fill="#fff" stroke="#fff" stroke-width="0.3" textLength="43.5" lengthAdjust="spacingAndGlyphs">11:51:56</text>
<path d="M1232 216.4h-47.5a2.5 2.5 0 0 0 -2.5 2.5v11.5a2.5 2.5 0 0 0 2.5 2.5h47.5z" fill="#26a69a"/>
<text x="1186.5" y="229.0" font-size="12" fill="#fff" stroke="#fff" stroke-width="0.3" textLength="41.0" lengthAdjust="spacingAndGlyphs">ETHUSD</text>
<path d="M1233.0 500.2h27.0a2 2 0 0 1 2 2v12.6a2 2 0 0 1 -2 2h-27.0z" fill="#26a69a"/>
<text x="1241.0" y="512.6" font-size="12" fill="#fff" stroke="#fff" stroke-width="0.3" textLength="16.0" lengthAdjust="spacingAndGlyphs">0.2</text>
<path d="M1233.0 542.0h45.0a2 2 0 0 1 2 2v12.7a2 2 0 0 1 -2 2h-45.0z" fill="#2962ff"/>
<text x="1241.0" y="554.7" font-size="12" fill="#fff" stroke="#fff" stroke-width="0.3" textLength="33.0" lengthAdjust="spacingAndGlyphs">−157.1</text>
<g clip-path="url(#cpAM)">
<path d="M1233.0 558.7h45.0a2 2 0 0 1 2 2v12.7a2 2 0 0 1 -2 2h-45.0z" fill="#ff6d00"/>
<text x="1241.0" y="572.2" font-size="12" fill="#fff" stroke="#fff" stroke-width="0.3" textLength="33.0" lengthAdjust="spacingAndGlyphs">−157.3</text>
</g>
<path d="M1233.0 689.1h38.8a2 2 0 0 1 2 2v12.8a2 2 0 0 1 -2 2h-38.8z" fill="#7e57c2"/>
<text x="1241.0" y="701.8" font-size="12" fill="#fff" stroke="#fff" stroke-width="0.3" textLength="28.0" lengthAdjust="spacingAndGlyphs">42.25</text>
<path d="M1233.0 705.9h38.8a2 2 0 0 1 2 2v12.9a2 2 0 0 1 -2 2h-38.8z" fill="#fdd835"/>
<text x="1241.0" y="718.7" font-size="12" fill="#000" stroke="#000" stroke-width="0.3" textLength="28.0" lengthAdjust="spacingAndGlyphs">39.16</text>
<g clip-path="url(#cpT)">
<text x="7.8" y="758.6" font-size="12" fill="#131722" stroke="#131722" stroke-width="0.3" textLength="19.0" lengthAdjust="spacingAndGlyphs" font-weight="bold">Jun</text>
<text x="225.0" y="758.6" font-size="11.5" fill="#131722" stroke="#131722" stroke-width="0.3" text-anchor="middle" font-weight="bold">Jul</text>
<text x="439.0" y="758.6" font-size="11.5" fill="#131722" stroke="#131722" stroke-width="0.3" text-anchor="middle" font-weight="bold">Aug</text>
<text x="654.0" y="758.6" font-size="11.5" fill="#131722" stroke="#131722" stroke-width="0.3" text-anchor="middle" font-weight="bold">Sep</text>
<text x="862.0" y="758.6" font-size="11.5" fill="#131722" stroke="#131722" stroke-width="0.3" text-anchor="middle" font-weight="bold">Oct</text>
<text x="1076.0" y="758.6" font-size="11.5" fill="#131722" stroke="#131722" stroke-width="0.3" text-anchor="middle" font-weight="bold">Nov</text>
</g>
<path d="M1168.89 365.25A9.40 9.40 0 0 1 1151.73 372.18M1150.66 364.61A9.40 9.40 0 0 1 1161.33 357.94" fill="none" stroke="#9c27b0" stroke-width="1.25" stroke-linecap="round"/>
<path d="M1162 361.9L1155.4 367.9H1159.3L1156 373.1L1163.8 367H1159.6z" fill="#9c27b0"/>
<circle cx="1166.4" cy="360.5" r="2.7" fill="#f23645"/>
<path d="M1148.80 366.10Q1149.70 370.00 1153.60 370.90Q1149.70 371.80 1148.80 375.70Q1147.90 371.80 1144.00 370.90Q1147.90 370.00 1148.80 366.10z" fill="#7c4dff"/>
<circle cx="1166.6" cy="392.0" r="10.10" fill="#fff" stroke="#f23645" stroke-width="1.4"/>
<clipPath id="f2"><circle cx="1166.6" cy="392.0" r="8.0"/></clipPath>
<g clip-path="url(#f2)">
<rect x="1158.6" y="384.00" width="16.0" height="16.00" fill="#fff"/>
<rect x="1158.6" y="384.00" width="16.0" height="3.20" fill="#ef5350"/>
<rect x="1158.6" y="390.40" width="16.0" height="3.20" fill="#ef5350"/>
<rect x="1158.6" y="396.80" width="16.0" height="3.20" fill="#ef5350"/>
</g>
<circle cx="1158.8" cy="392.0" r="10.10" fill="#fff" stroke="#f23645" stroke-width="1.4"/>
<clipPath id="f1"><circle cx="1158.8" cy="392.0" r="8.0"/></clipPath>
<g clip-path="url(#f1)">
<rect x="1150.8" y="384.00" width="16.0" height="16.00" fill="#fff"/>
<rect x="1150.8" y="384.00" width="16.0" height="3.20" fill="#ef5350"/>
<rect x="1150.8" y="390.40" width="16.0" height="3.20" fill="#ef5350"/>
<rect x="1150.8" y="396.80" width="16.0" height="3.20" fill="#ef5350"/>
<rect x="1150.8" y="384.00" width="10.2" height="9.60" fill="#1e88e5"/>
<rect x="1153.40" y="385.90" width="1" height="1" fill="#fff" fill-opacity="0.85"/>
<rect x="1156.00" y="385.90" width="1" height="1" fill="#fff" fill-opacity="0.85"/>
<rect x="1158.60" y="385.90" width="1" height="1" fill="#fff" fill-opacity="0.85"/>
<rect x="1153.40" y="388.50" width="1" height="1" fill="#fff" fill-opacity="0.85"/>
<rect x="1156.00" y="388.50" width="1" height="1" fill="#fff" fill-opacity="0.85"/>
<rect x="1158.60" y="388.50" width="1" height="1" fill="#fff" fill-opacity="0.85"/>
<rect x="1153.40" y="391.10" width="1" height="1" fill="#fff" fill-opacity="0.85"/>
<rect x="1156.00" y="391.10" width="1" height="1" fill="#fff" fill-opacity="0.85"/>
<rect x="1158.60" y="391.10" width="1" height="1" fill="#fff" fill-opacity="0.85"/>
</g>
<g fill="#131722">
<path d="M11.9 791.5H24.05V805.8H18.1V797.5H11.9z"/>
<circle cx="28.7" cy="794.1" r="2.6"/>
<path d="M33.8 791.5H42L36.4 805.8H29.7z"/>
<text x="49.2" y="805.8" font-size="20" font-weight="bold" textLength="120.8" lengthAdjust="spacingAndGlyphs">TradingView</text>
</g>
</svg>
</body></html>
